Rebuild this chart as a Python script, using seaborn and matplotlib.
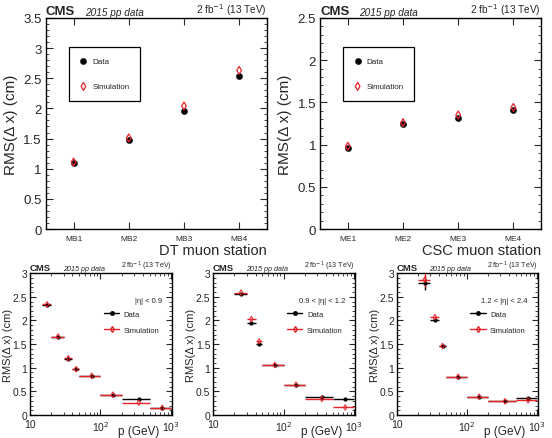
import matplotlib
matplotlib.use("Agg")
import matplotlib.pyplot as plt
from matplotlib.lines import Line2D
from matplotlib.ticker import MultipleLocator, LogLocator, NullFormatter, FixedLocator, FuncFormatter
import numpy as np
import pandas as pd
import seaborn as sns

sns.set_theme(style="ticks")
plt.rcParams["font.family"] = ["Liberation Sans", "DejaVu Sans"]

# %% data
dt_stations = ["MB1", "MB2", "MB3", "MB4"]
dt_data = [1.10, 1.47, 1.96, 2.54]
dt_sim = [1.11, 1.51, 2.04, 2.63]

csc_stations = ["ME1", "ME2", "ME3", "ME4"]
csc_data = [0.96, 1.24, 1.32, 1.41]
csc_sim = [0.98, 1.26, 1.35, 1.44]

edges_barrel = [15, 20, 30, 40, 50, 100, 200, 500, 1000]
edges_other = [20, 30, 40, 50, 100, 200, 500, 1000]

barrel_data = [2.33, 1.65, 1.19, 0.97, 0.83, 0.43, 0.34, 0.15]
barrel_sim = [2.34, 1.66, 1.20, 0.97, 0.83, 0.43, 0.26, 0.15]

overlap_data = [2.57, 1.95, 1.51, 1.06, 0.63, 0.39, 0.34]
overlap_sim = [2.59, 2.03, 1.56, 1.06, 0.64, 0.34, 0.16]

endcap_data = [2.80, 2.00, 1.45, 0.81, 0.39, 0.29, 0.35]
endcap_sim = [2.86, 2.07, 1.46, 0.81, 0.39, 0.29, 0.31]
endcap_data_err = [0.15, 0.02, 0.02, 0.01, 0.01, 0.01, 0.02]
endcap_sim_err = [0.15, 0.02, 0.02, 0.01, 0.01, 0.01, 0.02]

eta_labels = ["|\u03b7| < 0.9", "0.9 < |\u03b7| < 1.2", "1.2 < |\u03b7| < 2.4"]

RED = "#e8232a"
strip_fmt = FuncFormatter(lambda v, pos: f"{v:g}")


def cms_header(ax, big):
    s = 1.0 if big else 0.72
    ax.text(0.0, 1.005, "CMS", transform=ax.transAxes, fontsize=9.5 * s,
            fontweight="bold", ha="left", va="bottom")
    ax.text(0.175 if big else 0.23, 1.005, "2015 pp data", transform=ax.transAxes,
            fontsize=7.2 * s, style="italic", ha="left", va="bottom")
    ax.text(1.0, 1.005, "2 fb$^{-1}$ (13 TeV)", transform=ax.transAxes,
            fontsize=7.2 * s, ha="right", va="bottom")


def root_ticks(ax, size):
    ax.tick_params(which="both", direction="in", top=True, right=True,
                   labelsize=size, pad=3)
    ax.tick_params(which="major", length=5, width=0.8)
    ax.tick_params(which="minor", length=2.5, width=0.6)
    for sp in ax.spines.values():
        sp.set_linewidth(1.0)
        sp.set_color("black")


fig = plt.figure(figsize=(5.52, 4.39), dpi=100)

# %% top panels
top_axes = [fig.add_axes([0.0833, 0.476, 0.400, 0.481]),
            fig.add_axes([0.580, 0.476, 0.400, 0.481])]
top_sets = [(dt_stations, dt_data, dt_sim, 3.5, "DT muon station"),
            (csc_stations, csc_data, csc_sim, 2.5, "CSC muon station")]

for ax, (stations, dvals, svals, ymax, xlabel) in zip(top_axes, top_sets):
    df = pd.DataFrame({"pos": np.arange(len(stations)), "data": dvals, "sim": svals})
    sns.scatterplot(data=df, x="pos", y="data", ax=ax, color="black", marker="o",
                    s=20, edgecolor="black", linewidth=0.3, label="Data", zorder=3)
    sns.scatterplot(data=df, x="pos", y="sim", ax=ax, marker="d", s=16,
                    facecolor="none", edgecolor=RED, linewidth=0.9,
                    label="Simulation", zorder=4)
    ax.set_xlim(-0.5, len(stations) - 0.5)
    ax.set_ylim(0, ymax)
    ax.set_xticks(np.arange(len(stations)))
    ax.set_xticklabels(stations)
    ax.yaxis.set_major_locator(MultipleLocator(0.5))
    ax.yaxis.set_minor_locator(MultipleLocator(0.1))
    ax.yaxis.set_major_formatter(strip_fmt)
    root_ticks(ax, 9.5)
    ax.tick_params(axis="x", labelsize=6, pad=4)
    ax.set_xlabel("")
    ax.text(1.0, -0.068, xlabel, transform=ax.transAxes, fontsize=10.5,
            ha="right", va="top")
    ax.set_ylabel("RMS(\u0394 x) (cm)", fontsize=11, labelpad=4)
    cms_header(ax, True)
    leg = ax.legend(loc="upper left", bbox_to_anchor=(0.104, 0.862), fontsize=5.8,
                    frameon=True, fancybox=False, edgecolor="black",
                    labelspacing=2.2, borderpad=1.3, handletextpad=0.6,
                    borderaxespad=0, handlelength=1.0)
    leg.get_frame().set_linewidth(0.9)
    leg.get_frame().set_alpha(1)

# %% bottom panels
bot_axes = [fig.add_axes([0.0543, 0.0524, 0.257, 0.323]),
            fig.add_axes([0.386, 0.0524, 0.257, 0.323]),
            fig.add_axes([0.719, 0.0524, 0.255, 0.323])]
bot_sets = [(edges_barrel, barrel_data, barrel_sim, None, None),
            (edges_other, overlap_data, overlap_sim, None, None),
            (edges_other, endcap_data, endcap_sim, endcap_data_err, endcap_sim_err)]

for i, (ax, (edges, dvals, svals, derr, serr)) in enumerate(zip(bot_axes, bot_sets)):
    edges = np.array(edges, dtype=float)
    centers = 0.5 * (edges[:-1] + edges[1:])
    xerr = [centers - edges[:-1], edges[1:] - centers]
    ax.errorbar(centers, dvals, xerr=xerr, yerr=derr, fmt="none", ecolor="black",
                elinewidth=1.0, zorder=2)
    ax.errorbar(centers, svals, xerr=xerr, yerr=serr, fmt="none", ecolor=RED,
                elinewidth=1.0, zorder=3)
    df = pd.DataFrame({"p": centers, "data": dvals, "sim": svals})
    sns.scatterplot(data=df, x="p", y="data", ax=ax, color="black", marker="o",
                    s=7, edgecolor="black", linewidth=0.3, zorder=4, legend=False)
    sns.scatterplot(data=df, x="p", y="sim", ax=ax, marker="d", s=8,
                    facecolor="none", edgecolor=RED, linewidth=0.7, zorder=5,
                    legend=False)
    ax.set_xscale("log")
    ax.set_xlim(10, 1030)
    ax.set_ylim(0, 3)
    ax.xaxis.set_major_locator(FixedLocator([10, 100, 1000]))
    ax.set_xticklabels(["10", "10$^2$", "10$^3$"])
    ax.xaxis.set_minor_locator(LogLocator(base=10, subs=np.arange(2, 10)))
    ax.xaxis.set_minor_formatter(NullFormatter())
    ax.yaxis.set_major_locator(MultipleLocator(0.5))
    ax.yaxis.set_minor_locator(MultipleLocator(0.1))
    ax.yaxis.set_major_formatter(strip_fmt)
    root_ticks(ax, 7.5)
    ax.tick_params(which="major", length=4)
    ax.tick_params(which="minor", length=2)
    ax.tick_params(axis="y", pad=2)
    ax.set_xlabel("")
    ax.text(0.91, -0.07, "p (GeV)", transform=ax.transAxes, fontsize=8.5,
            ha="right", va="top")
    ax.set_ylabel("RMS(\u0394 x) (cm)", fontsize=8, labelpad=0)
    cms_header(ax, False)
    ax.text(0.93, 0.81, eta_labels[i], transform=ax.transAxes, fontsize=5.5,
            ha="right", va="center")
    handles = [Line2D([0], [0], color="black", lw=1.0, marker="o", markersize=2.5),
               Line2D([0], [0], color=RED, lw=1.0, marker="d", markersize=3,
                      markerfacecolor="none")]
    ax.legend(handles, ["Data", "Simulation"], loc="upper left",
              bbox_to_anchor=(0.5, 0.76), fontsize=5.5, frameon=False,
              handlelength=2.0, handletextpad=0.6, labelspacing=1.2,
              borderaxespad=0)

fig.savefig("out.png", dpi=100)
